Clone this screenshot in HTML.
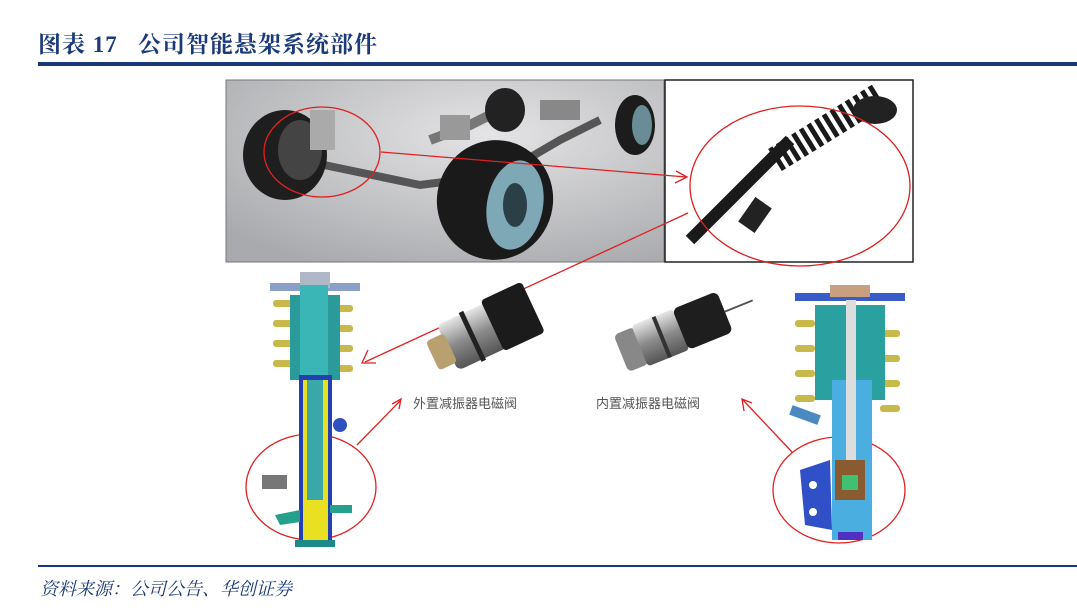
<!DOCTYPE html>
<html><head><meta charset="utf-8"><style>
html,body{margin:0;padding:0;background:#fff;}
body{width:1077px;height:615px;position:relative;overflow:hidden;font-family:"Liberation Serif","Noto Serif CJK SC",serif;}
.t{position:absolute;left:38px;top:26px;font-size:23px;font-weight:bold;color:#1b3a7a;letter-spacing:1px;white-space:nowrap}
.r1{position:absolute;left:38px;top:62px;width:1039px;height:4px;background:#17397a}
.r2{position:absolute;left:38px;top:565px;width:1039px;height:2px;background:#17397a}
.src{position:absolute;left:40px;top:575px;font-size:18px;font-style:italic;color:#1b3a7a;white-space:nowrap}
.lb{position:absolute;font-family:"Liberation Sans","Noto Sans CJK SC",sans-serif;font-size:13px;color:#555;white-space:nowrap}
</style></head><body>
<div class="t">图表 17&nbsp;&nbsp;&nbsp;公司智能悬架系统部件</div>
<div class="r1"></div>
<svg width="1077" height="615" style="position:absolute;left:0;top:0">
<defs>
<radialGradient id="bg" cx="0.6" cy="0.3" r="0.8"><stop offset="0" stop-color="#e4e4e6"/><stop offset="1" stop-color="#a9aaad"/></radialGradient>
<linearGradient id="met" x1="0" y1="0" x2="0" y2="1"><stop offset="0" stop-color="#e6e6e6"/><stop offset=".5" stop-color="#8a8a8a"/><stop offset="1" stop-color="#555"/></linearGradient>
</defs>
<!-- car photo -->
<rect x="226" y="80" width="438" height="182" fill="url(#bg)" stroke="#777"/>
<!-- chassis -->
<path d="M300 160 L420 185 L500 175 L560 140 L600 120" stroke="#555" stroke-width="8" fill="none"/>
<path d="M430 140 L470 125 L500 110" stroke="#777" stroke-width="10" fill="none"/>
<rect x="440" y="115" width="30" height="25" fill="#999"/>
<rect x="540" y="100" width="40" height="20" fill="#888"/>
<!-- rear wheels -->
<ellipse cx="505" cy="110" rx="20" ry="22" fill="#222"/>
<ellipse cx="635" cy="125" rx="20" ry="30" fill="#1c1c1c"/><ellipse cx="642" cy="125" rx="10" ry="20" fill="#6a8c96"/>
<!-- front left wheel -->
<ellipse cx="285" cy="155" rx="42" ry="45" fill="#1e1e1e"/><ellipse cx="300" cy="150" rx="22" ry="30" fill="#444"/>
<rect x="310" y="110" width="25" height="40" fill="#aaa"/>
<!-- front right wheel -->
<ellipse cx="495" cy="200" rx="58" ry="60" fill="#1a1a1a" transform="rotate(15 495 200)"/>
<ellipse cx="515" cy="205" rx="28" ry="45" fill="#7fa8b6" transform="rotate(10 515 205)"/>
<ellipse cx="515" cy="205" rx="12" ry="22" fill="#2b3f47"/>
<!-- strut photo box -->
<rect x="665" y="80" width="248" height="182" fill="#fff" stroke="#222" stroke-width="1.5"/>
<path d="M690 240 L760 170 L790 140" stroke="#1a1a1a" stroke-width="12" fill="none"/>
<rect x="745" y="200" width="20" height="30" fill="#222" transform="rotate(35 755 215)"/>
<path d="M775 160 L880 95" stroke="#1a1a1a" stroke-width="26" fill="none" stroke-dasharray="5 4"/>
<ellipse cx="875" cy="110" rx="22" ry="14" fill="#222"/>
<!-- ellipses & arrows -->
<g fill="none" stroke="#e02020" stroke-width="1.3">
<ellipse cx="322" cy="152" rx="58" ry="45"/>
<ellipse cx="800" cy="186" rx="110" ry="80"/>
<line x1="381" y1="152" x2="686" y2="177"/>
<line x1="688" y1="213" x2="365" y2="362"/>
<ellipse cx="311" cy="487" rx="65" ry="53"/>
<ellipse cx="839" cy="490" rx="66" ry="53"/>
<line x1="357" y1="445" x2="400" y2="401"/>
<line x1="792" y1="452" x2="743" y2="400"/>
<path d="M676 171 L687 177 L675 183"/>
<path d="M368 350 L362 363 L376 363"/>
<path d="M392 404 L401 399 L399 409"/>
<path d="M744 411 L742 399 L752 403"/>
</g>
<!-- left strut -->
<g>
<rect x="270" y="283" width="90" height="8" fill="#8aa0c8"/>
<rect x="300" y="272" width="30" height="16" fill="#b0b8c8"/>
<g fill="#c9b84a">
<rect x="273" y="300" width="20" height="7" rx="3"/><rect x="333" y="305" width="20" height="7" rx="3"/>
<rect x="273" y="320" width="20" height="7" rx="3"/><rect x="333" y="325" width="20" height="7" rx="3"/>
<rect x="273" y="340" width="20" height="7" rx="3"/><rect x="333" y="345" width="20" height="7" rx="3"/>
<rect x="273" y="360" width="20" height="7" rx="3"/><rect x="333" y="365" width="20" height="7" rx="3"/>
</g>
<rect x="290" y="295" width="50" height="85" fill="#2a9a9a"/>
<rect x="300" y="285" width="28" height="95" fill="#3ab6b6"/>
<rect x="299" y="375" width="33" height="170" fill="#2340b0"/>
<rect x="303" y="380" width="25" height="162" fill="#e8e020"/>
<rect x="307" y="380" width="16" height="120" fill="#3aa7a8"/>
<circle cx="340" cy="425" r="7" fill="#3050c0"/>
<path d="M275 515 L300 510 L300 522 L280 525Z" fill="#25a08c"/>
<rect x="330" y="505" width="22" height="8" fill="#25a08c"/>
<rect x="262" y="475" width="25" height="14" fill="#777"/>
<rect x="295" y="540" width="40" height="7" fill="#1d8a8a"/>
</g>
<!-- left valve -->
<g transform="rotate(-25 480 335)">
<rect x="445" y="308" width="55" height="50" rx="6" fill="url(#met)"/>
<rect x="495" y="304" width="45" height="56" rx="4" fill="#1b1b1b"/>
<rect x="428" y="318" width="20" height="32" rx="4" fill="#b8a070"/>
<rect x="470" y="306" width="5" height="54" fill="#222"/>
</g>
<!-- right valve -->
<g transform="rotate(-22 675 335)">
<rect x="618" y="312" width="22" height="40" rx="5" fill="#888"/>
<rect x="638" y="310" width="45" height="44" rx="4" fill="url(#met)"/>
<rect x="660" y="310" width="4" height="44" fill="#333"/>
<rect x="682" y="310" width="48" height="44" rx="6" fill="#1e1e1e"/>
<line x1="730" y1="332" x2="760" y2="332" stroke="#555" stroke-width="2"/>
</g>
<!-- right strut -->
<g>
<rect x="795" y="293" width="110" height="8" fill="#3a5cc8"/>
<rect x="830" y="285" width="40" height="12" fill="#c8a080"/>
<g fill="#c9b84a">
<rect x="795" y="320" width="20" height="7" rx="3"/><rect x="880" y="330" width="20" height="7" rx="3"/>
<rect x="795" y="345" width="20" height="7" rx="3"/><rect x="880" y="355" width="20" height="7" rx="3"/>
<rect x="795" y="370" width="20" height="7" rx="3"/><rect x="880" y="380" width="20" height="7" rx="3"/>
<rect x="795" y="395" width="20" height="7" rx="3"/><rect x="880" y="405" width="20" height="7" rx="3"/>
</g>
<rect x="815" y="305" width="70" height="95" fill="#2aa0a0"/>
<rect x="832" y="380" width="40" height="160" fill="#4aaee0"/>
<rect x="846" y="300" width="10" height="170" fill="#ddd"/>
<rect x="835" y="460" width="30" height="40" fill="#8a5a30"/>
<rect x="842" y="475" width="16" height="15" fill="#40c070"/>
<path d="M800 470 L830 460 L832 530 L805 525Z" fill="#3050c8"/>
<circle cx="813" cy="485" r="4" fill="#fff"/><circle cx="813" cy="512" r="4" fill="#fff"/>
<rect x="790" y="410" width="30" height="10" fill="#4a8ac0" transform="rotate(20 805 415)"/>
<rect x="838" y="532" width="25" height="8" fill="#5030c0"/>
</g>
</svg>
<div class="lb" style="left:413px;top:393px">外置减振器电磁阀</div>
<div class="lb" style="left:596px;top:393px">内置减振器电磁阀</div>
<div class="r2"></div>
<div class="src">资料来源：公司公告、华创证券</div>
</body></html>
